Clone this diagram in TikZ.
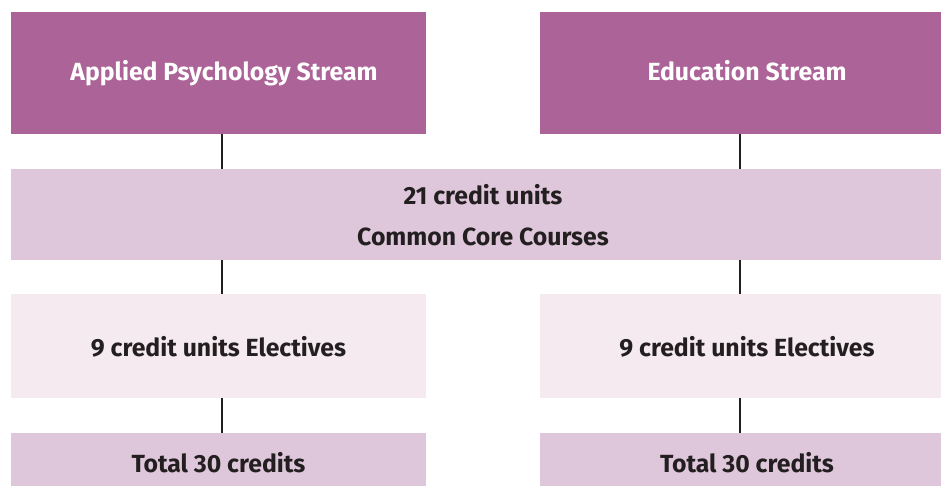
\documentclass[tikz,border=0pt]{standalone}
\usepackage{fontspec}
\setmainfont{Fira Sans}
\definecolor{topc}{HTML}{AC6397}
\definecolor{midc}{HTML}{DFC7DB}
\definecolor{elc}{HTML}{F4EAF0}
\definecolor{txt}{HTML}{231F20}
\tikzset{
  box/.style={rectangle, inner sep=0pt, outer sep=0pt, draw=none},
  lbl/.style={anchor=base, inner sep=0pt, font=\fontsize{24.8}{28}\selectfont\bfseries},
  conn/.style={draw=txt, line width=1.6pt},
}
\begin{document}
\begin{tikzpicture}[x=1pt,y=-1pt]
\useasboundingbox (0,0) rectangle (941,486);
% boxes
\node[box, fill=topc, minimum width=415pt, minimum height=121.5pt] (topL) at (218.5,73.25) {};
\node[box, fill=topc, minimum width=414pt, minimum height=121.5pt] (topR) at (747,73.25) {};
\node[box, fill=midc, minimum width=944pt, minimum height=91pt] (core) at (483,214.5) {};
\node[box, fill=elc, minimum width=415pt, minimum height=104pt] (elL) at (218.5,346) {};
\node[box, fill=elc, minimum width=414pt, minimum height=104pt] (elR) at (747,346) {};
\node[box, fill=midc, minimum width=415pt, minimum height=59pt] (totL) at (218.5,462.5) {};
\node[box, fill=midc, minimum width=414pt, minimum height=59pt] (totR) at (747,462.5) {};
% texts
\node[lbl, text=white] (tTopL) at (224,81) {Applied Psychology Stream};
\node[lbl, text=white] (tTopR) at (747,81) {Education Stream};
\node[lbl, text=txt] (tCore1) at (483,205) {21 credit units};
\node[lbl, text=txt] (tCore2) at (483,245) {Common Core Courses};
\node[lbl, text=txt] (tElL) at (218.5,356) {9 credit units Electives};
\node[lbl, text=txt] (tElR) at (747,356) {9 credit units Electives};
\node[lbl, text=txt] (tTotL) at (218.5,472) {Total 30 credits};
\node[lbl, text=txt] (tTotR) at (747,472) {Total 30 credits};
% connectors
\coordinate (xL) at (222,0);
\coordinate (xR) at (740,0);
\draw[conn] (topL.south -| xL) -- (core.north -| xL);
\draw[conn] (topR.south -| xR) -- (core.north -| xR);
\draw[conn] (core.south -| xL) -- (elL.north -| xL);
\draw[conn] (core.south -| xR) -- (elR.north -| xR);
\draw[conn] (elL.south -| xL) -- (totL.north -| xL);
\draw[conn] (elR.south -| xR) -- (totR.north -| xR);
\end{tikzpicture}
\end{document}
